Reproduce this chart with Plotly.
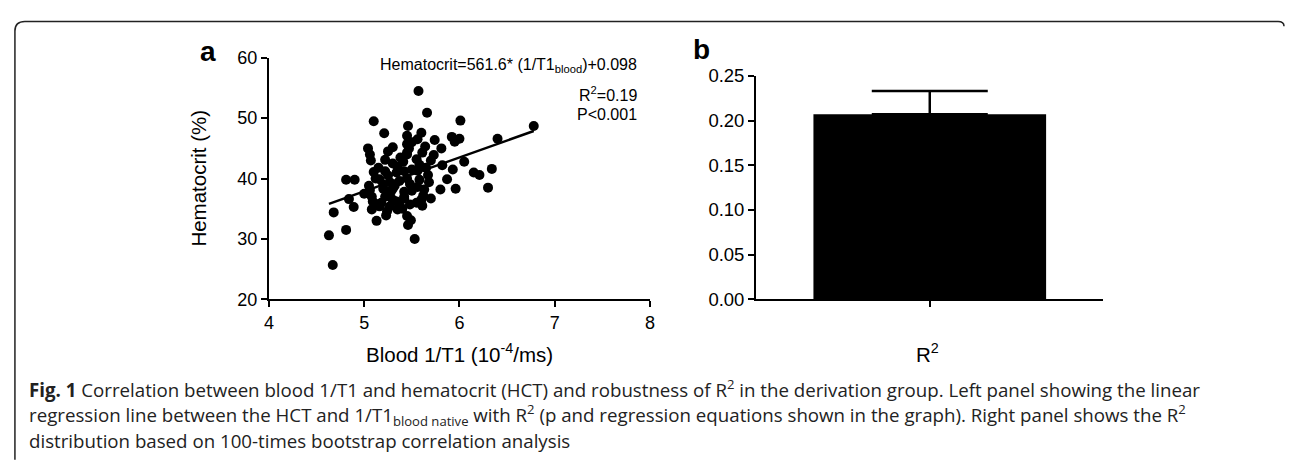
import plotly.graph_objects as go

# ---------------- data ----------------
blood_inv_t1 = [5.57, 5.66, 5.10, 6.01, 5.46, 5.21, 5.60, 5.45, 5.56, 5.92, 6.00, 5.95, 5.74, 5.45,
                5.30, 5.04, 5.64, 5.81, 6.40, 5.45, 5.61, 5.06, 5.73, 5.07, 5.22, 5.30, 5.41, 6.05,
                5.58, 5.82, 5.10, 5.93, 6.34, 6.15, 6.21, 5.22, 5.34, 5.42, 5.56, 5.67, 4.81, 4.90,
                5.87, 5.16, 5.27, 5.37, 5.48, 5.68, 5.06, 5.20, 5.30, 5.42, 5.56, 5.63, 5.96, 6.30,
                5.80, 4.84, 4.89, 5.08, 5.09, 5.22, 5.30, 5.42, 5.70, 5.60, 4.68, 5.08, 5.16, 5.27,
                5.37, 5.48, 5.61, 5.23, 5.35, 5.13, 4.81, 5.49, 5.46, 5.53, 4.63, 4.67, 6.78,
                5.25, 5.35, 5.45, 5.50, 5.15, 5.20, 5.28, 5.38, 5.50, 5.55, 5.12, 5.32, 5.42, 5.25,
                5.47, 5.50, 5.45, 5.58, 5.62, 5.18, 5.34, 5.40, 5.55, 5.65, 5.70, 5.05, 5.00, 5.12,
                5.24, 5.45]
hematocrit = [54.5, 50.9, 49.5, 49.6, 48.7, 47.5, 47.6, 47.1, 46.5, 46.9, 46.6, 46.1, 46.4, 45.7,
              45.2, 45.0, 45.3, 45.0, 46.6, 44.3, 44.3, 44.0, 43.9, 43.0, 43.1, 42.5, 42.8, 42.8,
              42.3, 42.2, 41.1, 41.5, 41.6, 41.0, 40.6, 41.2, 41.0, 41.2, 41.3, 40.6, 39.8, 39.8,
              39.9, 39.9, 39.4, 39.6, 39.1, 39.4, 38.1, 38.3, 38.3, 37.8, 38.6, 38.2, 38.3, 38.5,
              38.2, 36.6, 35.3, 37.0, 36.2, 37.0, 36.5, 36.7, 36.7, 36.5, 34.4, 34.9, 35.4, 35.4,
              35.7, 35.7, 35.5, 33.9, 34.9, 33.0, 31.5, 33.1, 32.3, 30.0, 30.6, 25.7, 48.7,
              40.5, 42.0, 40.0, 38.0, 41.8, 39.0, 37.8, 43.5, 41.5, 43.2, 40.0, 38.8, 37.0, 44.5,
              45.0, 46.0, 44.0, 39.8, 37.2, 36.0, 36.2, 35.0, 36.0, 41.8, 43.0, 38.8, 37.5, 35.8,
              34.6, 33.8]

fit_slope = 561.6      # per (1/T1) in ms
fit_intercept = 0.098  # fraction

bar_categories = ["R2"]
bar_values = [0.207]
bar_errors = [0.026]

x_ticks = [4, 5, 6, 7, 8]
y_ticks = [20, 30, 40, 50, 60]
bar_y_ticks = [0.00, 0.05, 0.10, 0.15, 0.20, 0.25]

# ---------------- helpers ----------------
W, H = 1290, 465
def px(x):
    return x / W
def py(y):
    return 1 - y / H

FONT = "Liberation Sans, Arial, sans-serif"
CAP_FONT = "Open Sans, sans-serif"

xmin, xmax = min(blood_inv_t1), max(blood_inv_t1)
line_x = [xmin, xmax]
line_y = [(fit_slope * v * 1e-4 + fit_intercept) * 100 for v in line_x]

fig = go.Figure()
fig.add_trace(go.Scatter(x=blood_inv_t1, y=hematocrit, mode="markers",
                         marker=dict(color="black", size=10), xaxis="x", yaxis="y",
                         showlegend=False, cliponaxis=False))
fig.add_trace(go.Scatter(x=line_x, y=line_y, mode="lines",
                         line=dict(color="black", width=2.5), xaxis="x", yaxis="y",
                         showlegend=False))
fig.add_trace(go.Bar(x=[0], y=bar_values, width=0.67, marker=dict(color="black", line=dict(width=0)),
                     error_y=dict(type="data", array=bar_errors, arrayminus=[0], symmetric=False,
                                  color="black", thickness=2.5, width=58),
                     xaxis="x2", yaxis="y2", showlegend=False))

def axis_common(size):
    return dict(showline=True, linecolor="black", linewidth=2, ticks="outside",
                ticklen=6, tickwidth=2, tickcolor="black", showgrid=False, zeroline=False,
                tickfont=dict(family=FONT, size=size, color="black"))

fig.update_layout(
    width=W, height=H, autosize=False,
    margin=dict(l=0, r=0, t=0, b=0),
    paper_bgcolor="white", plot_bgcolor="white",
    xaxis=dict(domain=[px(266), px(650)], range=[4, 8], tickvals=x_ticks, anchor="y", **axis_common(18)),
    yaxis=dict(domain=[py(302), py(49)], range=[20, 60], tickvals=y_ticks, anchor="x", **axis_common(18)),
    xaxis2=dict(domain=[px(757), px(1107)], range=[-0.5, 0.5], tickvals=[0], ticktext=[""],
                anchor="y2", **axis_common(18.5)),
    yaxis2=dict(domain=[py(302), py(68)], range=[0, 0.25], tickvals=bar_y_ticks,
                tickformat=".2f", anchor="x2", **axis_common(18.5)),
)

ann = []
def add_text(x, y, text, size=17, xanchor="center", yanchor="middle", font=FONT, color="black", angle=0):
    ann.append(dict(x=px(x), y=py(y), xref="paper", yref="paper", text=text, showarrow=False,
                    xanchor=xanchor, yanchor=yanchor, textangle=angle,
                    font=dict(family=font, size=size, color=color)))

add_text(205, 42, "<b>a</b>", size=28)
add_text(702, 40, "<b>b</b>", size=28)
add_text(639, 57, "Hematocrit=561.6* (1/T1<sub>blood</sub>)+0.098", size=16, xanchor="right")
add_text(639, 87, "R<sup>2</sup>=0.19", size=16, xanchor="right")
add_text(639, 108, "P&lt;0.001", size=16, xanchor="right")
add_text(195, 175, "Hematocrit (%)", size=20.5, angle=-90)
add_text(458, 358, "Blood 1/T1 (10<sup>-4</sup>/ms)", size=20.5)
add_text(930, 358, "R<sup>2</sup>", size=20.5)

cap = "#222222"
add_text(22, 395, "<b>Fig. 1</b> Correlation between blood 1/T1 and hematocrit (HCT) and robustness of R<sup>2</sup> in the derivation group. Left panel showing the linear",
         size=18.7, xanchor="left", font=CAP_FONT, color=cap)
add_text(22, 423, "regression line between the HCT and 1/T1<sub>blood native</sub> with R<sup>2</sup> (p and regression equations shown in the graph). Right panel shows the R<sup>2</sup>",
         size=18.7, xanchor="left", font=CAP_FONT, color=cap)
add_text(22, 450, "distribution based on 100-times bootstrap correlation analysis",
         size=18.7, xanchor="left", font=CAP_FONT, color=cap)
fig.update_layout(annotations=ann)

# rounded frame (top edge and left edge)
path = (f"M {px(1289)} {py(16)} Q {px(1289)} {py(11)} {px(1283)} {py(11)} "
        f"L {px(20)} {py(11)} Q {px(10)} {py(11)} {px(10)} {py(21)} L {px(10)} {py(470)}")
fig.add_shape(type="path", path=path, xref="paper", yref="paper",
              line=dict(color="#222222", width=1.5))

fig.write_html("out.html", config={"displayModeBar": False},
               post_script="document.body.style.margin='0';document.body.style.overflow='hidden';")
